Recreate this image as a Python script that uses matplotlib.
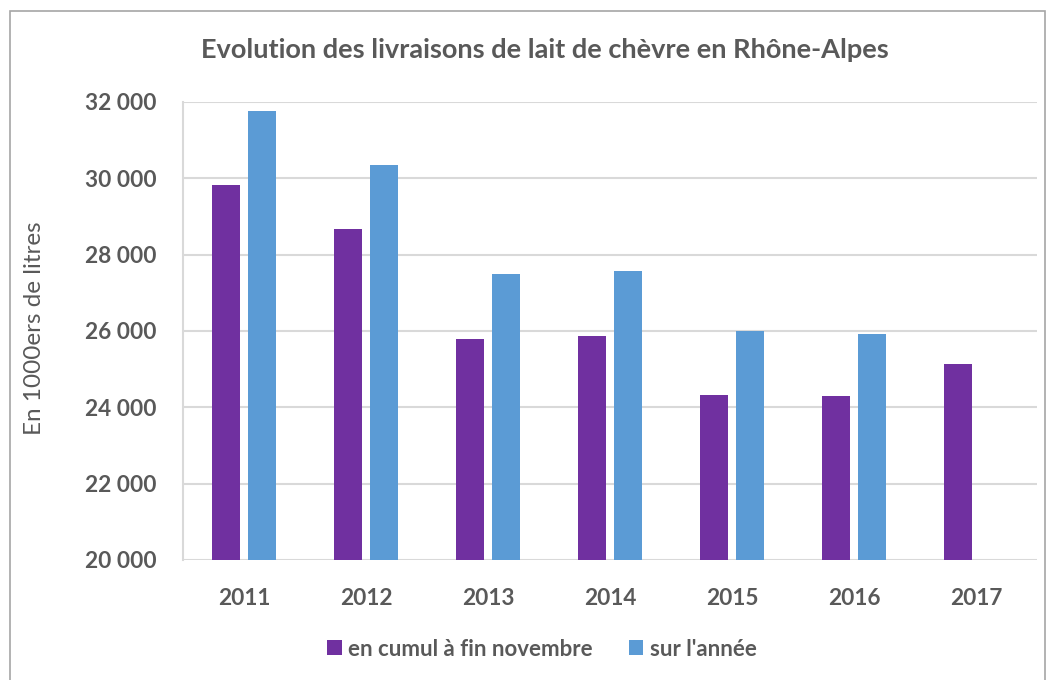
import matplotlib.pyplot as plt
from matplotlib.patches import Rectangle
from matplotlib.ticker import FuncFormatter
import numpy as np

plt.rcParams['font.family'] = ['Lato', 'DejaVu Sans']

years = ["2011", "2012", "2013", "2014", "2015", "2016", "2017"]
cumul_nov = [29820, 28670, 25790, 25860, 24330, 24290, 25130]
annee = [31760, 30350, 27500, 27570, 26010, 25930, None]

PURPLE = "#7030A0"
BLUE = "#5B9BD5"
TXT = "#595959"
GRID = "#D9D9D9"

fig = plt.figure(figsize=(10.53, 6.80), dpi=100)
fig.patches.append(Rectangle((10 / 1053, -0.02), 1035 / 1053, 1 - 11 / 680 + 0.02,
                             transform=fig.transFigure, fill=False,
                             edgecolor="#A6A6A6", linewidth=1.2))

ax = fig.add_axes([183 / 1053, 120 / 680, 854 / 1053, 458 / 680])
x = np.arange(len(years))
w = 0.23
ax.bar(x - 0.145, cumul_nov, width=w, color=PURPLE, label="en cumul à fin novembre", zorder=3)
ann_x = [xi + 0.145 for xi, v in zip(x, annee) if v is not None]
ann_v = [v for v in annee if v is not None]
ax.bar(ann_x, ann_v, width=w, color=BLUE, label="sur l'année", zorder=3)

ax.set_xlim(-0.5, len(years) - 0.5)
ax.set_ylim(20000, 32000)
ax.set_yticks(range(20000, 32001, 2000))
ax.yaxis.set_major_formatter(FuncFormatter(lambda v, p: f"{int(v):,}".replace(",", " ")))
ax.set_xticks(x)
ax.set_xticklabels(years)
ax.grid(axis="y", color=GRID, linewidth=1.5, zorder=0)
for s in ["top", "right", "bottom"]:
    ax.spines[s].set_visible(False)
ax.spines["left"].set_color(GRID)
ax.spines["left"].set_linewidth(1.5)
ax.tick_params(axis="both", length=0, colors=TXT, labelsize=16.3)
ax.tick_params(axis="y", pad=19)
ax.tick_params(axis="x", pad=20)
for lbl in ax.get_xticklabels() + ax.get_yticklabels():
    lbl.set_fontweight("bold")

fig.text(35 / 1053, 1 - 328 / 680, "En 1000ers de litres", rotation=90, ha="center",
         va="center", color=TXT, fontsize=17.5)
fig.text(545 / 1053, 1 - 50 / 680, "Evolution des livraisons de lait de chèvre en Rhône-Alpes",
         ha="center", va="center", color=TXT, fontsize=19.5, fontweight="bold")

leg = fig.legend(loc="center", bbox_to_anchor=(542 / 1053, 1 - 649 / 680), ncol=2,
                 frameon=False, fontsize=16, handlelength=0.65, handleheight=0.65,
                 handletextpad=0.3, columnspacing=1.6)
for t in leg.get_texts():
    t.set_color(TXT)
    t.set_fontweight("bold")

fig.savefig("out.png", dpi=100)
